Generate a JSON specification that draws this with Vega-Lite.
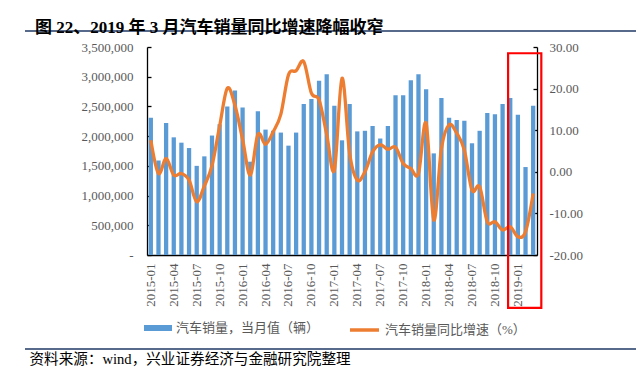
{
  "$schema": "https://vega.github.io/schema/vega-lite/v6.json",
  "width": 390,
  "height": 208,
  "autosize": {"type": "none"},
  "padding": {"left": 147, "top": 47, "right": 101, "bottom": 119},
  "background": "white",
  "title": {
    "text": "图 22、2019 年 3 月汽车销量同比增速降幅收窄",
    "anchor": "start",
    "frame": "group",
    "orient": "top",
    "dx": -112,
    "dy": 7,
    "offset": -8,
    "baseline": "middle",
    "font": "'Liberation Serif','Noto Sans CJK SC'",
    "fontSize": 17,
    "fontWeight": "bold",
    "color": "#000000"
  },
  "config": {
    "view": {"stroke": null},
    "axis": {
      "grid": false,
      "domainColor": "#000000",
      "domainWidth": 1.3,
      "tickColor": "#000000",
      "tickWidth": 1.3,
      "labelFont": "'Liberation Serif','Noto Sans CJK SC'",
      "labelFontSize": 13,
      "labelColor": "#595959"
    }
  },
  "data": {
    "values": [
      {"month": "2015-01", "sales": 2310000, "yoy": 7.6},
      {"month": "2015-02", "sales": 1590000, "yoy": -0.4},
      {"month": "2015-03", "sales": 2220000, "yoy": 3.2},
      {"month": "2015-04", "sales": 1980000, "yoy": -0.8},
      {"month": "2015-05", "sales": 1890000, "yoy": -0.4},
      {"month": "2015-06", "sales": 1800000, "yoy": -2.0},
      {"month": "2015-07", "sales": 1500000, "yoy": -7.2},
      {"month": "2015-08", "sales": 1660000, "yoy": -3.4},
      {"month": "2015-09", "sales": 2010000, "yoy": 1.5},
      {"month": "2015-10", "sales": 2200000, "yoy": 11.0},
      {"month": "2015-11", "sales": 2500000, "yoy": 20.1},
      {"month": "2015-12", "sales": 2770000, "yoy": 16.0},
      {"month": "2016-01", "sales": 2480000, "yoy": 7.8},
      {"month": "2016-02", "sales": 1570000, "yoy": -0.8},
      {"month": "2016-03", "sales": 2420000, "yoy": 9.0},
      {"month": "2016-04", "sales": 2110000, "yoy": 6.6},
      {"month": "2016-05", "sales": 2090000, "yoy": 9.6},
      {"month": "2016-06", "sales": 2060000, "yoy": 13.8},
      {"month": "2016-07", "sales": 1840000, "yoy": 23.3},
      {"month": "2016-08", "sales": 2060000, "yoy": 24.3},
      {"month": "2016-09", "sales": 2540000, "yoy": 26.5},
      {"month": "2016-10", "sales": 2625000, "yoy": 18.9},
      {"month": "2016-11", "sales": 2930000, "yoy": 17.3},
      {"month": "2016-12", "sales": 3040000, "yoy": 9.0},
      {"month": "2017-01", "sales": 2510000, "yoy": 0.4},
      {"month": "2017-02", "sales": 1930000, "yoy": 22.5},
      {"month": "2017-03", "sales": 2540000, "yoy": 4.4},
      {"month": "2017-04", "sales": 2080000, "yoy": -2.0},
      {"month": "2017-05", "sales": 2090000, "yoy": 0.0},
      {"month": "2017-06", "sales": 2170000, "yoy": 4.8},
      {"month": "2017-07", "sales": 1960000, "yoy": 6.5},
      {"month": "2017-08", "sales": 2170000, "yoy": 5.4},
      {"month": "2017-09", "sales": 2690000, "yoy": 5.9},
      {"month": "2017-10", "sales": 2690000, "yoy": 2.0},
      {"month": "2017-11", "sales": 2940000, "yoy": 0.8},
      {"month": "2017-12", "sales": 3040000, "yoy": -0.4},
      {"month": "2018-01", "sales": 2790000, "yoy": 11.7},
      {"month": "2018-02", "sales": 1710000, "yoy": -11.6},
      {"month": "2018-03", "sales": 2640000, "yoy": 5.6},
      {"month": "2018-04", "sales": 2310000, "yoy": 11.3},
      {"month": "2018-05", "sales": 2270000, "yoy": 9.3},
      {"month": "2018-06", "sales": 2260000, "yoy": 5.2},
      {"month": "2018-07", "sales": 1880000, "yoy": -4.4},
      {"month": "2018-08", "sales": 2090000, "yoy": -3.6},
      {"month": "2018-09", "sales": 2390000, "yoy": -12.0},
      {"month": "2018-10", "sales": 2370000, "yoy": -12.0},
      {"month": "2018-11", "sales": 2540000, "yoy": -14.0},
      {"month": "2018-12", "sales": 2640000, "yoy": -13.2},
      {"month": "2019-01", "sales": 2360000, "yoy": -15.6},
      {"month": "2019-02", "sales": 1480000, "yoy": -14.4},
      {"month": "2019-03", "sales": 2510000, "yoy": -5.2}
    ]
  },
  "layer": [
    {
      "layer": [
        {
          "mark": {"type": "bar", "color": "#5B9BD5"},
          "encoding": {
            "x": {
              "field": "month",
              "type": "nominal",
              "scale": {"paddingInner": 0.44, "paddingOuter": 0.22},
              "axis": {
                "values": ["2015-01","2015-04","2015-07","2015-10","2016-01","2016-04","2016-07","2016-10","2017-01","2017-04","2017-07","2017-10","2018-01","2018-04","2018-07","2018-10","2019-01"],
                "labelAngle": -90,
                "labelPadding": 12,
                "tickSize": -4,
                "title": "资料来源：wind，兴业证券经济与金融研究院整理",
                "titleFont": "'Liberation Serif','Noto Sans CJK SC'",
                "titleFontSize": 14.6,
                "titleFontWeight": "normal",
                "titleColor": "#000000",
                "titleAlign": "left",
                "titleBaseline": "middle",
                "titleAnchor": "start",
                "titleX": -118,
                "titleY": 104
              }
            },
            "y": {
              "field": "sales",
              "type": "quantitative",
              "scale": {"domain": [0, 3500000], "nice": false},
              "axis": {
                "orient": "left",
                "values": [0, 500000, 1000000, 1500000, 2000000, 2500000, 3000000, 3500000],
                "labelExpr": "datum.value == 0 ? '-' : format(datum.value, ',')",
                "tickSize": -4,
                "labelPadding": 18,
                "title": null
              }
            },
            "fill": {
              "datum": "汽车销量，当月值（辆）",
              "scale": {"range": ["#5B9BD5"]},
              "legend": {
                "orient": "none",
                "legendX": -3,
                "legendY": 267,
                "title": null,
                "padding": 0,
                "symbolType": "M-1,-0.214H1V0.214H-1Z",
                "symbolSize": 784,
                "symbolStrokeWidth": 0,
                "labelOffset": 4,
                "labelFont": "'Liberation Serif','Noto Sans CJK SC'",
                "labelFontSize": 13,
                "labelColor": "#595959"
              }
            }
          }
        },
        {
          "layer": [
            {
              "mark": {"type": "line", "interpolate": "cardinal", "strokeWidth": 3.3},
              "encoding": {
                "x": {"field": "month", "type": "nominal"},
                "y": {
                  "field": "yoy",
                  "type": "quantitative",
                  "scale": {"domain": [-20, 30], "nice": false, "zero": false},
                  "axis": {
                    "orient": "right",
                    "values": [-20, -15, -10, -5, 0, 5, 10, 15, 20, 25, 30],
                    "labelExpr": "(datum.value < 0 ? '-' : '') + format(abs(datum.value), '.2f')",
                    "tickSize": -4,
                    "labelPadding": 16,
                    "title": null
                  }
                },
                "stroke": {
                  "datum": "汽车销量同比增速（%）",
                  "scale": {"range": ["#ED7D31"]},
                  "legend": {
                    "orient": "none",
                    "legendX": 201,
                    "legendY": 266.5,
                    "title": null,
                    "padding": 0,
                    "symbolType": "stroke",
                    "symbolSize": 841,
                    "symbolStrokeWidth": 3.5,
                    "labelOffset": 4,
                    "labelFont": "'Liberation Serif','Noto Sans CJK SC'",
                    "labelFontSize": 13,
                    "labelColor": "#595959"
                  }
                }
              }
            },
            {
              "data": {"values": [{"start": "2018-12", "end": "2019-03", "top": 28.5, "bottom": -32.7}]},
              "mark": {"type": "rect", "filled": false, "color": "#FF0000", "strokeWidth": 2.2, "x2Offset": 6, "clip": false},
              "encoding": {
                "x": {"field": "start", "type": "nominal", "bandPosition": 0},
                "x2": {"field": "end", "bandPosition": 1},
                "y": {"field": "top", "type": "quantitative"},
                "y2": {"field": "bottom"}
              }
            }
          ]
        }
      ],
      "resolve": {"scale": {"y": "independent"}}
    },
    {
      "data": {"values": [
        {"a": 0, "b": 1, "level": 1},
        {"a": 0, "b": 1, "level": 0}
      ]},
      "mark": {"type": "rule", "color": "#1F3864", "strokeWidth": 1.6},
      "encoding": {
        "x": {
          "field": "a",
          "type": "quantitative",
          "scale": {"domain": [0, 1], "range": [-122, 489], "nice": false, "zero": false},
          "axis": null
        },
        "x2": {"field": "b"},
        "y": {
          "field": "level",
          "type": "quantitative",
          "scale": {"domain": [0, 1], "range": [302, -16], "nice": false, "zero": false},
          "axis": null
        }
      }
    }
  ],
  "resolve": {"scale": {"x": "independent", "y": "independent"}}
}
